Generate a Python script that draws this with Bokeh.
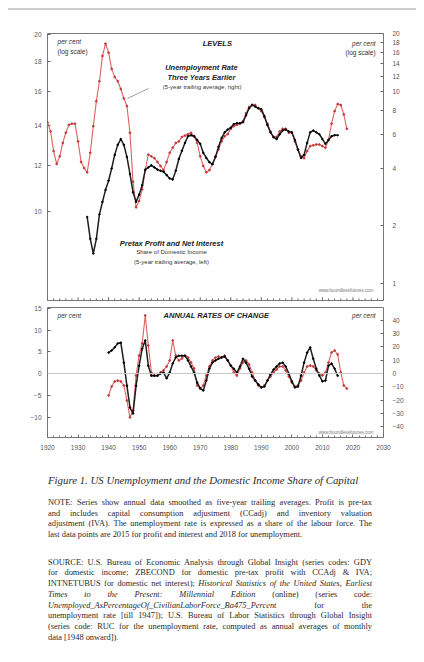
from bokeh.plotting import figure
from bokeh.models import (Range1d, LogScale, LinearScale, LogAxis, LinearAxis, FixedTicker,
                          SingleIntervalTicker, Span, Label, Div, BasicTickFormatter)
from bokeh.layouts import column
from bokeh.embed import file_html
from bokeh.resources import INLINE

# ---------------- data ----------------
unemp_years = list(range(1920, 2019))
unemp_level = [6.9, 6.2, 4.9, 4.2, 4.6, 5.4, 6.1, 6.7, 6.8, 6.8,
               5.5, 4.3, 4.0, 3.8, 4.8, 6.6, 8.9, 11.3, 15.3, 17.7,
               15.9, 13.1, 11.9, 11.3, 10.3, 9.2, 8.4, 6.1, 3.4, 2.5,
               2.7, 3.1, 3.9, 4.7, 4.6, 4.5, 4.3, 4.1, 3.9, 4.3,
               4.8, 5.1, 5.4, 5.5, 5.8, 5.9, 6.0, 6.1, 5.85, 5.4,
               4.6, 4.1, 3.8, 3.9, 4.2, 4.6, 5.0, 5.5, 5.85, 6.0,
               6.4, 6.6, 6.7, 6.8, 7.0, 7.7, 8.3, 8.5, 8.5, 8.2,
               7.9, 7.35, 6.8, 6.2, 5.8, 5.8, 6.2, 6.4, 6.4, 6.1,
               6.1, 5.5, 5.0, 4.6, 4.5, 4.9, 5.2, 5.25, 5.3, 5.3,
               5.2, 5.1, 5.6, 6.8, 7.9, 8.6, 8.5, 7.6, 6.4]

profit_years = list(range(1933, 2016))
profit_level = [9.8, 9.0, 8.5, 9.0, 9.9, 10.4, 10.9,
                11.3, 11.85, 12.5, 13.0, 13.3, 13.0, 12.4, 11.6, 10.8, 10.4,
                10.7, 11.1, 11.8, 11.9, 12.0, 11.9, 11.8, 11.75, 11.7, 11.55,
                11.4, 11.35, 11.75, 12.3, 12.7, 13.1, 13.45, 13.5, 13.45, 13.25,
                13.05, 12.6, 12.35, 12.15, 12.05, 12.4, 12.9, 13.35, 13.65, 13.8,
                13.9, 14.1, 14.15, 14.15, 14.2, 14.6, 15.0, 15.2, 15.1, 15.0,
                14.95, 14.55, 14.05, 13.65, 13.4, 13.3, 13.55, 13.75, 13.8, 13.7,
                13.65, 13.25, 12.75, 12.35, 12.5, 13.1, 13.65, 13.75, 13.65, 13.55,
                13.3, 13.05, 13.25, 13.45, 13.5, 13.5]

profit_chg_years = list(range(1940, 2016))
profit_chg = [4.8, 5.3, 6.0, 6.9, 7.1, 2.5, -2.8, -7.8, -9.2, -2.8,
              1.8, 5.7, 7.6, 1.8, -0.5, -0.5, -0.5, 0.0, 0.2, -1.1,
              0.2, 2.3, 3.7, 4.1, 4.1, 4.1, 3.0, 1.6, 0.2, -2.1,
              -3.4, -3.9, -1.6, 1.1, 2.5, 3.0, 3.4, 3.7, 3.9, 3.0,
              1.8, 1.1, 0.2, 1.6, 3.4, 2.5, 1.1, -0.7, -1.6, -2.5,
              -3.2, -3.0, -1.6, -0.2, 0.9, 1.6, 2.3, 2.5, 1.6, 0.0,
              -1.8, -3.2, -3.0, -0.5, 2.5, 4.8, 6.0, 3.4, 1.1, -0.5,
              -1.8, -1.6, 1.8, 2.3, 1.1, -0.5]

unemp_chg_years = list(range(1940, 2019))
unemp_chg = [-16.5, -9.8, -6.0, -5.3, -6.0, -9.0, -20.3, -33.0, -27.8, -1.5,
             13.5, 22.6, 43.6, 21.1, 0.8, -1.5, -1.5, 0.8, 2.3, 5.3,
             9.8, 24.8, 13.5, 9.8, 11.3, 13.5, 12.0, 8.3, 3.8, -9.0,
             -11.3, -9.0, -1.5, 5.3, 9.8, 12.0, 12.8, 12.0, 13.5, 9.8,
             6.0, 0.8, -1.5, 3.8, 8.3, 9.8, 6.8, 0.8, -5.3, -9.0,
             -10.5, -9.0, -5.3, -2.3, 0.8, 3.0, 5.3, 5.3, 2.3, -2.3,
             -6.8, -9.8, -9.0, -5.3, 0.8, 5.3, 6.0, 5.3, 2.3, 0.0,
             -1.5, 0.8, 8.3, 15.8, 17.3, 14.3, 0.8, -9.0, -11.3]

top_left_ticks = [10, 12, 14, 16, 18, 20]
top_right_ticks = [1, 2, 4, 6, 8, 10, 12, 14, 16, 18, 20]
bot_left_ticks = [-10, -5, 0, 5, 10, 15]
bot_right_ticks = [-40, -30, -20, -10, 0, 10, 20, 30, 40, 50]
x_major_ticks = list(range(1920, 2031, 10))
x_minor_ticks = [y for y in range(1920, 2031, 2) if y % 10]

RED = "#e06060"
RED_DOT = "#c43b3b"
BLACK = "#1e1e1e"
FONT = "Liberation Sans"
LABEL_C = "#555555"


def minus(v):
    return ("\u2212" + str(abs(v))) if v < 0 else str(v)


def style_y(ax, standoff):
    ax.axis_line_color = None
    ax.major_tick_in = 3
    ax.major_tick_out = 0
    ax.minor_tick_in = 0
    ax.minor_tick_out = 0
    ax.major_tick_line_color = "#666666"
    ax.major_label_text_font = FONT
    ax.major_label_text_font_size = "6.5px"
    ax.major_label_text_color = LABEL_C
    ax.major_label_standoff = standoff


# ---------------- top panel: levels ----------------
p1 = figure(width=408, height=293, title=None,
            x_range=Range1d(1920, 2030), y_range=Range1d(7.07, 20.1),
            y_axis_type="log", output_backend="svg", toolbar_location=None,
            min_border_left=39, min_border_right=33, min_border_top=23, min_border_bottom=3)
p1.extra_y_ranges = {"right": Range1d(0.82, 20.0), "frac": Range1d(0, 1)}
p1.extra_y_scales = {"right": LogScale(), "frac": LinearScale()}
p1.outline_line_color = "#777777"
p1.grid.visible = False
p1.xaxis.visible = False

p1.yaxis[0].ticker = FixedTicker(ticks=top_left_ticks)
p1.yaxis[0].formatter = BasicTickFormatter(use_scientific=False)
style_y(p1.yaxis[0], 6)
r_ax = LogAxis(y_range_name="right", ticker=FixedTicker(ticks=top_right_ticks),
               formatter=BasicTickFormatter(use_scientific=False))
style_y(r_ax, 9)
p1.add_layout(r_ax, "right")

# tick marks along the bottom edge of the upper panel (no labels there)
p1.segment(x0=x_major_ticks, x1=x_major_ticks, y0=[0] * len(x_major_ticks),
           y1=[0.012] * len(x_major_ticks), y_range_name="frac", line_color="#666666", line_width=1)
p1.segment(x0=x_minor_ticks, x1=x_minor_ticks, y0=[0] * len(x_minor_ticks),
           y1=[0.008] * len(x_minor_ticks), y_range_name="frac", line_color="#777777", line_width=1)

p1.line(unemp_years, unemp_level, y_range_name="right", line_color=RED, line_width=1.1)
p1.scatter(unemp_years, unemp_level, y_range_name="right", size=1.8, color=RED_DOT)
p1.line(profit_years, profit_level, line_color=BLACK, line_width=1.5)
p1.scatter(profit_years, profit_level, size=1.6, color="#000000")


def lab(p, x, y, text, size="6.5px", style="normal", align="left", rng=None, color="#333333"):
    kw = dict(x=x, y=y, text=text, text_font=FONT, text_font_size=size,
              text_font_style=style, text_align=align, text_baseline="middle",
              text_color=color)
    if rng:
        kw["y_range_name"] = rng
    p.add_layout(Label(**kw))


lab(p1, 1923.3, 0.970, "per cent", style="italic", rng="frac")
lab(p1, 1923.3, 0.933, "(log scale)", rng="frac")
lab(p1, 2027.4, 0.9625, "per cent", style="italic", align="right", rng="frac")
lab(p1, 2027.4, 0.929, "(log scale)", align="right", rng="frac")
lab(p1, 1975.6, 0.9625, "LEVELS", size="7.5px", style="bold italic", align="center", rng="frac", color="#222222")
lab(p1, 1970.4, 0.873, "Unemployment Rate", size="7.5px", style="bold italic", align="center", rng="frac", color="#222222")
lab(p1, 1970.4, 0.835, "Three Years Earlier", size="7.5px", style="bold italic", align="center", rng="frac", color="#222222")
lab(p1, 1970.6, 0.798, "(5-year trailing average, right)", size="6px", align="center", rng="frac")
lab(p1, 1960.6, 0.2135, "Pretax Profit and Net Interest", size="7.5px", style="bold italic", align="center", rng="frac", color="#222222")
lab(p1, 1960.6, 0.180, "Share of Domestic Income", size="6px", align="center", rng="frac")
lab(p1, 1960.6, 0.146, "(5-year trailing average, left)", size="6px", align="center", rng="frac")
lab(p1, 2026.7, 0.037, "www.boundlessfutures.com", size="4.5px", align="right", rng="frac", color="#777777")

leader_x = [1953.1, 1946.2]
leader_y = [0.794, 0.757]
p1.line(leader_x, leader_y, y_range_name="frac", line_color="#888888", line_width=0.8)

# ---------------- bottom panel: rates of change ----------------
p2 = figure(width=408, height=157, title=None,
            x_range=p1.x_range, y_range=Range1d(-14.7, 15.17),
            output_backend="svg", toolbar_location=None,
            min_border_left=39, min_border_right=33, min_border_top=4, min_border_bottom=23)
p2.extra_y_ranges = {"right": Range1d(-48.1, 49.6)}
p2.extra_y_scales = {"right": LinearScale()}
p2.outline_line_color = "#777777"
p2.grid.visible = False

p2.yaxis[0].ticker = FixedTicker(ticks=bot_left_ticks)
p2.yaxis[0].major_label_overrides = {v: minus(v) for v in bot_left_ticks if v < 0}
style_y(p2.yaxis[0], 6)
r2 = LinearAxis(y_range_name="right", ticker=FixedTicker(ticks=bot_right_ticks),
                major_label_overrides={v: minus(v) for v in bot_right_ticks if v < 0})
style_y(r2, 9)
p2.add_layout(r2, "right")

xa = p2.xaxis[0]
xa.ticker = SingleIntervalTicker(interval=10, num_minor_ticks=5)
xa.axis_line_color = None
xa.major_tick_in = 3
xa.major_tick_out = 0
xa.minor_tick_in = 2
xa.minor_tick_out = 0
xa.major_tick_line_color = "#666666"
xa.minor_tick_line_color = "#777777"
xa.major_label_text_font = FONT
xa.major_label_text_color = LABEL_C
xa.major_label_text_font_size = "6.5px"
xa.major_label_standoff = 7

p2.add_layout(Span(location=0, dimension="width", line_color="#c8c8c8", line_width=1))
p2.line(unemp_chg_years, unemp_chg, y_range_name="right", line_color=RED, line_width=1.1)
p2.scatter(unemp_chg_years, unemp_chg, y_range_name="right", size=1.8, color=RED_DOT)
p2.line(profit_chg_years, profit_chg, line_color=BLACK, line_width=1.5)
p2.scatter(profit_chg_years, profit_chg, size=1.6, color="#000000")

lab(p2, 1923.3, 13.3, "per cent", style="italic")
lab(p2, 1975.3, 13.3, "ANNUAL RATES OF CHANGE", size="7.5px", style="bold italic", align="center", color="#222222")
lab(p2, 2027.4, 13.3, "per cent", style="italic", align="right")
lab(p2, 2026.7, -13.6, "www.boundlessfutures.com", size="4.5px", align="right", color="#777777")

# ---------------- page text ----------------
rule = Div(text="", width=408, height=2, margin=(0, 0, 0, 0),
           styles={"background-color": "#cfcfcf"})

caption = "Figure 1. US Unemployment and the Domestic Income Share of Capital"
note_lines = [
    "NOTE: Series show annual data smoothed as five-year trailing averages. Profit is pre-tax",
    "and includes capital consumption adjustment (CCadj) and inventory valuation",
    "adjustment (IVA). The unemployment rate is expressed as a share of the labour force. The",
    "last data points are 2015 for profit and interest and 2018 for unemployment.",
]
source_lines = [
    "SOURCE: U.S. Bureau of Economic Analysis through Global Insight (series codes: GDY",
    "for domestic income; ZBECOND for domestic pre-tax profit with CCAdj &amp; IVA;",
    "INTNETUBUS for domestic net interest); *Historical *Statistics *of *the *United *States, *Earliest",
    "*Times *to *the *Present: *Millennial *Edition (online) (series code:",
    "*Unemployed_AsPercentageOf_CivilianLaborForce_Ba475_Percent for the",
    "unemployment rate [till 1947]); U.S. Bureau of Labor Statistics through Global Insight",
    "(series code: RUC for the unemployment rate, computed as annual averages of monthly",
    "data [1948 onward]).",
]


def render_line(line, last):
    words = []
    for w in line.split(" "):
        if w.startswith("*"):
            words.append("<i>" + w[1:] + "</i>")
        else:
            words.append(w)
    align = "left" if last else "justify"
    return ("<div style='white-space:nowrap;text-align:justify;text-align-last:%s;"
            "height:10.7px;line-height:10.7px;'>%s</div>" % (align, " ".join(words)))


def render_par(lines, top):
    body = "".join(render_line(l, i == len(lines) - 1) for i, l in enumerate(lines))
    return "<div style='font-size:8.4px;margin-top:%dpx;'>%s</div>" % (top, body)


html = (
    "<div style=\"font-family:'Liberation Serif','Times New Roman',serif;color:#2a2a2a;"
    "width:324px;margin-left:40px;\">"
    "<div style='font-style:italic;font-size:10.8px;line-height:12px;margin-top:14px;white-space:nowrap;'>"
    + caption + "</div>"
    + render_par(note_lines, 12)
    + render_par(source_lines, 17)
    + "</div>"
)
text_div = Div(text=html, width=408, height=190, margin=(0, 0, 0, 0))

layout = column(rule, p1, p2, text_div, spacing=0, margin=(8, 8, 0, 8))

with open("out.html", "w") as f:
    f.write(file_html(layout, INLINE))
